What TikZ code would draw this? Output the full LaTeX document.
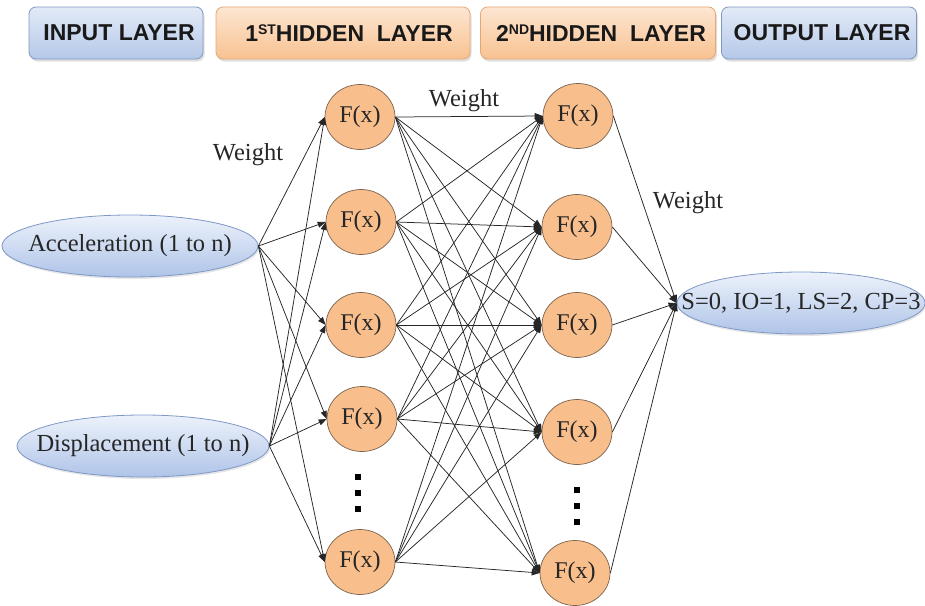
\documentclass[tikz,border=0pt]{standalone}
\usepackage{fontspec}
\setmainfont{Liberation Serif}
\newfontfamily\headfont{Liberation Sans}
\usetikzlibrary{arrows.meta,shapes.geometric,shadows}

\definecolor{boxblueT}{HTML}{E3EAF7}
\definecolor{boxblueB}{HTML}{B5C8E8}
\definecolor{boxblueD}{HTML}{8097C2}
\definecolor{boxorT}{HTML}{FDE6D2}
\definecolor{boxorB}{HTML}{F8C291}
\definecolor{boxorD}{HTML}{E2A877}
\definecolor{neuron}{HTML}{F8BE8B}
\definecolor{neuronD}{HTML}{7A624F}
\definecolor{ellT}{HTML}{EDF2FB}
\definecolor{ellB}{HTML}{AFC4E8}
\definecolor{ellD}{HTML}{7E98C6}

\tikzset{
  headbox/.style={draw, rounded corners=7pt, line width=0.8pt,
    minimum height=52pt, inner sep=0pt,
    font=\headfont\bfseries\fontsize{23}{25}\selectfont, text=black!90,
    drop shadow={opacity=0.25, shadow xshift=1.5pt, shadow yshift=-2.5pt}},
  bluebox/.style={headbox, draw=boxblueD, top color=boxblueT, bottom color=boxblueB},
  orbox/.style={headbox, draw=boxorD, top color=boxorT, bottom color=boxorB},
  unit/.style={ellipse, draw=neuronD, fill=neuron, line width=0.7pt,
    minimum width=70pt, minimum height=65pt, inner sep=0pt,
    font=\fontsize{24}{26}\selectfont, text=black!85},
  feature/.style={ellipse, draw=ellD, line width=0.8pt, top color=ellT, bottom color=ellB,
    minimum height=62pt, inner sep=0pt,
    font=\fontsize{24.5}{26}\selectfont, text=black!85,
    drop shadow={opacity=0.2, shadow xshift=1pt, shadow yshift=-2pt}},
  wlabel/.style={font=\fontsize{24.5}{26}\selectfont, text=black!85, inner sep=0pt},
  dotsq/.style={fill=black, minimum size=5.5pt, inner sep=0pt},
  link/.style={line width=0.75pt, draw=black!85, -{Triangle[length=8pt,width=6pt]}},
}

% superscript for the layer ordinals
\newcommand{\ordsup}[1]{\raisebox{0.6ex}{\fontsize{14}{14}\selectfont #1}}
% text set without width, so the ellipse keeps its given size
\newcommand{\nowidth}[1]{\makebox[0pt]{#1}}

\begin{document}
\begin{tikzpicture}[x=1pt, y=-1pt]
\useasboundingbox (0,0) rectangle (925,605);

% layer titles
\node[bluebox, minimum width=174pt] (tin)  at (116,33) {\hspace{6pt}INPUT LAYER};
\node[orbox,   minimum width=254pt] (th1)  at (343,33) {\hspace{12pt}1\ordsup{ST}HIDDEN\ \ LAYER};
\node[orbox,   minimum width=235pt] (th2)  at (598,33) {\hspace{6pt}2\ordsup{ND}HIDDEN\ \ LAYER};
\node[bluebox, minimum width=195pt] (tout) at (819,33) {\hspace{6pt}OUTPUT LAYER};

% input features
\node[feature, minimum width=256pt] (acc) at (130,246) {\nowidth{Acceleration (1 to n)}};
\node[feature, minimum width=252pt] (dis) at (143,446) {\nowidth{Displacement (1 to n)}};

% first hidden layer
\node[unit] (a1) at (360,117) {F(x)};
\node[unit] (a2) at (361,222) {F(x)};
\node[unit] (a3) at (361,325) {F(x)};
\node[unit] (a4) at (362,419) {F(x)};
\node[unit] (a5) at (360,562) {F(x)};

% second hidden layer
\node[unit] (b1) at (578,116) {F(x)};
\node[unit] (b2) at (577,227) {F(x)};
\node[unit] (b3) at (577,325) {F(x)};
\node[unit] (b4) at (577,432) {F(x)};
\node[unit] (b5) at (575,573) {F(x)};

% output class
\node[feature, minimum width=248pt] (out) at (801,303) {\nowidth{S=0, IO=1, LS=2, CP=3}};

% vertical ellipsis marks
\node[dotsq] (da1) at (358,477) {};
\node[dotsq] (da2) at (358,493) {};
\node[dotsq] (da3) at (358,509) {};
\node[dotsq] (db1) at (577,490) {};
\node[dotsq] (db2) at (577,506) {};
\node[dotsq] (db3) at (577,522) {};

% connections
\foreach \j in {1,...,5} {
  \draw[link] (acc.east) -- (a\j.west);
  \draw[link] (dis.east) -- (a\j.west);
}
\foreach \i in {1,...,5} {
  \foreach \j in {1,...,5} {
    \draw[link] (a\i.east) -- (b\j.west);
  }
  \draw[link] (b\i.east) -- (out.west);
}

% weight labels
\node[wlabel] (w1) at (248,155) {Weight};
\node[wlabel] (w2) at (464,101) {Weight};
\node[wlabel] (w3) at (688,203) {Weight};
\end{tikzpicture}
\end{document}
